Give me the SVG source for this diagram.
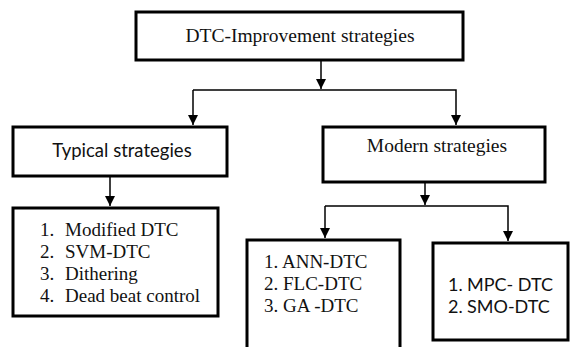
<svg xmlns="http://www.w3.org/2000/svg" width="574" height="347" viewBox="0 0 574 347">
  <style>
    .box { fill: #fff; stroke: #000; stroke-width: 3; }
    .wire { fill: none; stroke: #000; stroke-width: 1.5; }
    .serif { font-family: "Liberation Serif", "Times New Roman", serif; fill: #111; }
    .sans { font-family: Lato, "Liberation Sans", Arial, sans-serif; fill: #111; }
  </style>
  <defs>
    <marker id="arrow" viewBox="0 0 10 10" refX="10" refY="5" markerWidth="10" markerHeight="10" markerUnits="userSpaceOnUse" orient="auto">
      <path d="M0,0 L10,5 L0,10 Z" fill="#000"/>
    </marker>
  </defs>

  <!-- connectors -->
  <g id="connectors">
    <line class="wire" x1="321" y1="61" x2="321" y2="89" marker-end="url(#arrow)"/>
    <polyline class="wire" points="193,90 456,90 456,125" marker-end="url(#arrow)"/>
    <line class="wire" x1="193" y1="90" x2="193" y2="125" marker-end="url(#arrow)"/>
    <line class="wire" x1="110" y1="177" x2="110" y2="206" marker-end="url(#arrow)"/>
    <line class="wire" x1="425" y1="183" x2="425" y2="205" marker-end="url(#arrow)"/>
    <polyline class="wire" points="325,206 508,206 508,241" marker-end="url(#arrow)"/>
    <line class="wire" x1="325" y1="206" x2="325" y2="238" marker-end="url(#arrow)"/>
  </g>

  <!-- root -->
  <g id="root">
    <rect class="box" x="136" y="12" width="327" height="48"/>
    <text class="serif" x="300" y="42" font-size="19.5" text-anchor="middle">DTC-Improvement strategies</text>
  </g>

  <!-- typical branch -->
  <g id="typical">
    <rect class="box" x="13" y="127" width="214" height="49"/>
    <text class="sans" x="122" y="157" font-size="18.5" text-anchor="middle">Typical strategies</text>
  </g>
  <g id="typical-list" class="serif" font-size="19">
    <rect class="box" x="13" y="208" width="205" height="108"/>
    <text x="40" y="236">1.</text><text x="65" y="236">Modified DTC</text>
    <text x="40" y="258">2.</text><text x="65" y="258">SVM-DTC</text>
    <text x="40" y="280">3.</text><text x="65" y="280">Dithering</text>
    <text x="40" y="302">4.</text><text x="65" y="302">Dead beat control</text>
  </g>

  <!-- modern branch -->
  <g id="modern">
    <rect class="box" x="323" y="127" width="222" height="55"/>
    <text class="serif" x="437" y="152" font-size="19.5" text-anchor="middle">Modern strategies</text>
  </g>
  <g id="modern-ai" class="serif" font-size="19">
    <path class="box" d="M247,349 V240 H400 V349"/>
    <text x="264" y="268">1. ANN-DTC</text>
    <text x="264" y="290">2. FLC-DTC</text>
    <text x="264" y="312">3. GA -DTC</text>
  </g>
  <g id="modern-ctrl" class="sans" font-size="18">
    <rect class="box" x="433" y="243" width="135" height="97"/>
    <text x="448" y="291">1.</text><text x="467" y="291">MPC- DTC</text>
    <text x="448" y="313">2.</text><text x="467" y="313">SMO-DTC</text>
  </g>
</svg>
